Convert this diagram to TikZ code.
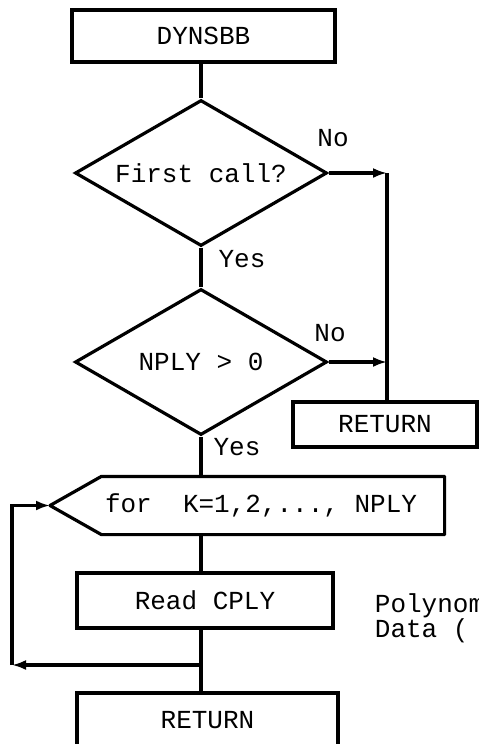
\documentclass[tikz,border=0pt]{standalone}
\usepackage{fontspec}
\setmainfont{Liberation Mono}
\usetikzlibrary{arrows.meta,shapes.geometric}

\begin{document}
\begin{tikzpicture}[x=1pt,y=-1pt,line width=3.2pt,
    >={Latex[length=14pt,width=10pt]},
    every node/.style={font=\fontsize{26}{22}\selectfont},
    box/.style={draw,rectangle,inner sep=0pt},
    test/.style={draw,diamond,aspect=1.72,inner sep=0pt,
      minimum width=252pt,minimum height=146pt}]
  \useasboundingbox (0,0) rectangle (479,744);
  \clip (0,0) rectangle (479,744);

  % boxes
  \node[box,minimum width=263pt,minimum height=52pt] (dyn) at (203.5,36) {DYNSBB};
  \node[test] (first) at (201,173) {First call?};
  \node[test] (nply) at (201,362) {NPLY > 0};
  \node[box,minimum width=184pt,minimum height=45pt] (ret1) at (385,424.5) {RETURN};
  \node[inner sep=0pt,minimum width=340pt,minimum height=55pt] (loop) at (273,505.5) {};
  \node[anchor=west,inner xsep=2pt] (looptext) at (loop.west) {for~~K=1,2,...,~NPLY};
  \coordinate (tip) at (50,505.5);
  \draw[line join=round] (tip) -- (loop.north west) -- (loop.north east)
    -- (loop.south east) -- (loop.south west) -- cycle;
  \node[box,minimum width=256pt,minimum height=55pt] (read) at (205,600.5) {Read CPLY};
  \node[box,minimum width=261pt,minimum height=55pt] (ret2) at (207.5,720.5) {RETURN};
  \node[anchor=west,align=left] (note) at (370,618) {Polynom\\Data (};

  % labels
  \node (no1) at (333,138) {No};
  \node (yes1) at (242,259) {Yes};
  \node (no2) at (330,333) {No};
  \node (yes2) at (237,447) {Yes};

  % connectors
  \coordinate (rail) at (387,173);
  \coordinate (back) at (12,665);
  \draw (first.north |- dyn.south) -- (first.north);
  \draw (first.south) -- (nply.north);
  \draw[->] (first.east) -- (rail);
  \draw[->] (nply.east) -- (nply.east -| rail);
  \draw (rail) -- (rail |- ret1.north);
  \draw (nply.south) -- (nply.south |- loop.north);
  \draw (nply.south |- loop.south) -- (nply.south |- read.north);
  \draw (nply.south |- read.south) -- (nply.south |- ret2.north);
  \draw[->] (nply.south |- back) -- (back);
  \draw[->] (back) -- (back |- tip) -- (tip);
\end{tikzpicture}
\end{document}
